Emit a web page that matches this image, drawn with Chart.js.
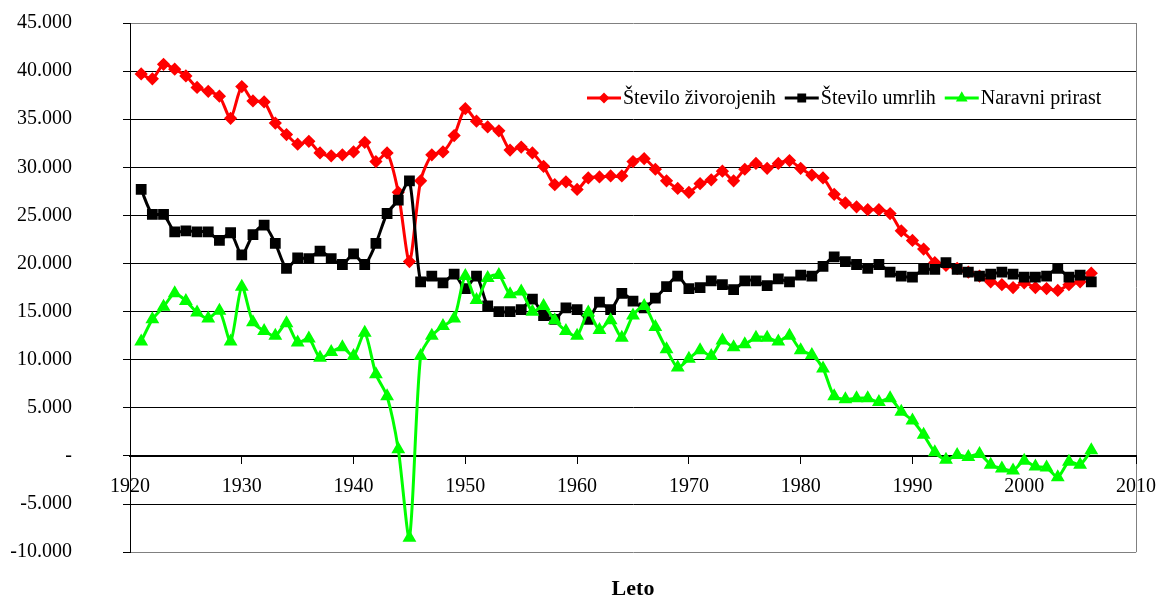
<!DOCTYPE html>
<html>
<head>
<meta charset="utf-8">
<script src="https://cdn.jsdelivr.net/npm/chart.js@4/dist/chart.umd.min.js"></script>
<style>
  html, body { margin: 0; padding: 0; background: #fff; }
  canvas { display: block; }
</style>
</head>
<body>
<canvas id="graf" width="1159" height="599"></canvas>
<script>
// Leta
const leta = [
    1921, 1922, 1923, 1924, 1925, 1926, 1927, 1928, 1929, 1930,
    1931, 1932, 1933, 1934, 1935, 1936, 1937, 1938, 1939, 1940,
    1941, 1942, 1943, 1944, 1945, 1946, 1947, 1948, 1949, 1950,
    1951, 1952, 1953, 1954, 1955, 1956, 1957, 1958, 1959, 1960,
    1961, 1962, 1963, 1964, 1965, 1966, 1967, 1968, 1969, 1970,
    1971, 1972, 1973, 1974, 1975, 1976, 1977, 1978, 1979, 1980,
    1981, 1982, 1983, 1984, 1985, 1986, 1987, 1988, 1989, 1990,
    1991, 1992, 1993, 1994, 1995, 1996, 1997, 1998, 1999, 2000,
    2001, 2002, 2003, 2004, 2005, 2006
];

// Število živorojenih
const zivorojeni = [
    39700, 39200, 40700, 40200, 39500, 38300, 37900, 37400, 35100, 38400,
    36900, 36800, 34600, 33400, 32400, 32700, 31500, 31200, 31300, 31600,
    32600, 30600, 31500, 27400, 20200, 28600, 31300, 31600, 33300, 36100,
    34800, 34200, 33800, 31800, 32100, 31500, 30100, 28200, 28500, 27700,
    28900, 29000, 29100, 29100, 30600, 30900, 29800, 28600, 27800, 27400,
    28300, 28700, 29600, 28600, 29800, 30400, 29900, 30400, 30700, 29900,
    29200, 28900, 27200, 26300, 25900, 25600, 25600, 25200, 23400, 22400,
    21500, 20100, 19800, 19500, 19100, 18700, 18100, 17800, 17500, 18000,
    17500, 17400, 17200, 17800, 18100, 19000
];

// Število umrlih
const umrli = [
    27700, 25100, 25100, 23300, 23400, 23300, 23300, 22400, 23200, 20900,
    23000, 24000, 22100, 19500, 20600, 20500, 21300, 20500, 19900, 21000,
    19900, 22100, 25200, 26600, 28600, 18100, 18700, 18000, 18900, 17400,
    18700, 15600, 15000, 15000, 15200, 16300, 14600, 14200, 15400, 15200,
    14200, 16000, 15200, 16900, 16100, 15400, 16400, 17600, 18700, 17400,
    17500, 18200, 17800, 17300, 18200, 18200, 17700, 18400, 18100, 18800,
    18700, 19700, 20700, 20200, 19900, 19500, 19900, 19100, 18700, 18600,
    19400, 19400, 20100, 19400, 19100, 18700, 18900, 19100, 18900, 18600,
    18600, 18700, 19500, 18600, 18800, 18100
];

// Naravni prirast
const prirast = [
    11900, 14200, 15500, 16900, 16100, 14900, 14300, 15100, 11900, 17600,
    13900, 13000, 12500, 13800, 11800, 12200, 10200, 10800, 11300, 10400,
    12800, 8500, 6200, 700, -8500, 10400, 12500, 13500, 14300, 18700,
    16200, 18500, 18800, 16800, 17100, 15000, 15600, 14100, 13000, 12500,
    14900, 13100, 14100, 12300, 14600, 15600, 13400, 11100, 9200, 10100,
    11000, 10400, 12000, 11300, 11600, 12300, 12300, 11900, 12500, 11000,
    10500, 9100, 6200, 5900, 6000, 6000, 5600, 6000, 4600, 3700,
    2200, 400, -400, 100, -100, 200, -900, -1300, -1500, -500,
    -1100, -1200, -2200, -600, -900, 600
];

const oznakeSerij = ['Število živorojenih', 'Število umrlih', 'Naravni prirast'];

const pisava = '"Liberation Serif", "Times New Roman", serif';

function tocke(vrednosti) {
    return leta.map((l, i) => ({ x: l, y: vrednosti[i] }));
}

function oblikuj(v) {
    if (v === 0) return '-';
    const s = Math.abs(v).toString().replace(/\B(?=(\d{3})+(?!\d))/g, '.');
    return (v < 0 ? '-' : '') + s;
}

// legenda v risalni površini, kot v Excelu
const legenda = {
    id: 'legendaExcel',
    afterDraw(chart) {
        const ctx = chart.ctx;
        const y = 98;
        let x = 587;
        ctx.save();
        ctx.font = '20px ' + pisava;
        ctx.textBaseline = 'middle';
        chart.data.datasets.forEach(ds => {
            ctx.strokeStyle = ds.borderColor;
            ctx.lineWidth = 3;
            ctx.beginPath();
            ctx.moveTo(x, y);
            ctx.lineTo(x + 34, y);
            ctx.stroke();
            ctx.fillStyle = ds.pointBackgroundColor;
            ctx.strokeStyle = ds.pointBorderColor;
            Chart.helpers.drawPoint(ctx, {
                pointStyle: ds.pointStyle,
                radius: ds.pointRadius * 0.75,
                rotation: 0,
                borderWidth: 1
            }, x + 17, y);
            ctx.fillStyle = '#000';
            ctx.textAlign = 'left';
            ctx.fillText(ds.label, x + 36, y + 1);
            x += 36 + ctx.measureText(ds.label).width + 9;
        });
        ctx.restore();
    }
};

new Chart(document.getElementById('graf'), {
    type: 'line',
    data: {
        datasets: [{
            label: oznakeSerij[0],
            data: tocke(zivorojeni),
            borderColor: '#FF0000',
            pointBackgroundColor: '#FF0000',
            pointBorderColor: '#FF0000',
            pointStyle: 'rectRot',
            pointRadius: 4.5,
            borderWidth: 3,
            tension: 0.25,
            order: 3
        }, {
            label: oznakeSerij[1],
            data: tocke(umrli),
            borderColor: '#000000',
            pointBackgroundColor: '#000000',
            pointBorderColor: '#000000',
            pointStyle: 'rect',
            pointRadius: 5.5,
            borderWidth: 3,
            tension: 0.25,
            order: 2
        }, {
            label: oznakeSerij[2],
            data: tocke(prirast),
            borderColor: '#00FF00',
            pointBackgroundColor: '#00FF00',
            pointBorderColor: '#00FF00',
            pointStyle: 'triangle',
            pointRadius: 5,
            borderWidth: 3,
            tension: 0.25,
            order: 1
        }]
    },
    options: {
        responsive: false,
        animation: false,
        layout: { padding: { left: 0, right: 23, top: 23, bottom: 0 } },
        plugins: {
            legend: { display: false },
            tooltip: { enabled: false },
            title: {
                display: true,
                text: 'Leto',
                position: 'bottom',
                fullSize: false,
                color: '#000',
                font: { family: pisava, size: 22, weight: 'bold', lineHeight: 0.9 },
                padding: { top: 27, bottom: 0 }
            }
        },
        scales: {
            x: {
                type: 'linear',
                position: { y: 0 },
                min: 1920,
                max: 2010,
                afterFit: s => { s.height = 0; s.paddingLeft = 0; s.paddingRight = 0; },
                ticks: {
                    stepSize: 10,
                    color: '#000',
                    font: { family: pisava, size: 20 },
                    padding: 12,
                    maxRotation: 0,
                    callback: v => String(v)
                },
                grid: {
                    color: c => (c.tick && c.tick.value === 2010) ? '#808080' : 'rgba(0,0,0,0)',
                    tickColor: '#000',
                    tickLength: 7
                },
                border: { color: '#000', width: 2 }
            },
            y: {
                min: -10000,
                max: 45000,
                afterFit: s => { s.width = 130; s.paddingTop = 0; s.paddingBottom = 0; },
                ticks: {
                    stepSize: 5000,
                    color: '#000',
                    font: { family: pisava, size: 20 },
                    padding: 51,
                    callback: v => oblikuj(v)
                },
                grid: {
                    color: c => (c.tick && (c.tick.value === 45000 || c.tick.value === -10000)) ? '#808080' : '#000',
                    tickColor: '#000',
                    tickLength: 7
                },
                border: { color: '#000', width: 1 }
            }
        }
    },
    plugins: [legenda]
});
</script>
</body>
</html>
